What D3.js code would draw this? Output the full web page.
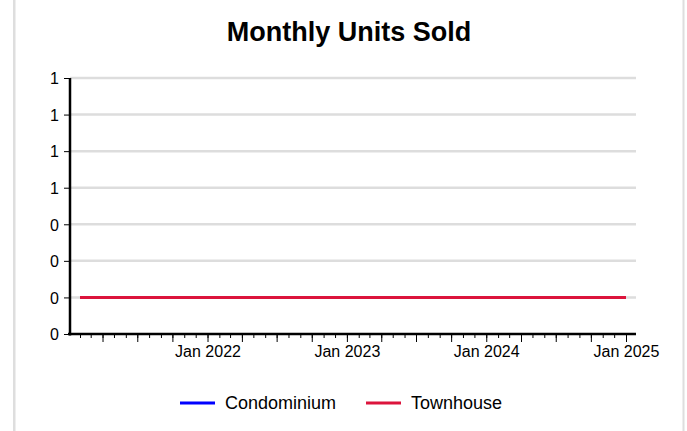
<!DOCTYPE html>
<html>
<head>
<meta charset="utf-8">
<script src="https://cdn.jsdelivr.net/npm/d3@7"></script>
<style>
    body { margin: 0; background: #fff; }
    text { font-family: "Liberation Sans", Arial, sans-serif; }
</style>
</head>
<body>
<div id="wrapper"></div>
<script>
const months = [
    "2021-02", "2021-03", "2021-04", "2021-05", "2021-06", "2021-07",
    "2021-08", "2021-09", "2021-10", "2021-11", "2021-12", "2022-01",
    "2022-02", "2022-03", "2022-04", "2022-05", "2022-06", "2022-07",
    "2022-08", "2022-09", "2022-10", "2022-11", "2022-12", "2023-01",
    "2023-02", "2023-03", "2023-04", "2023-05", "2023-06", "2023-07",
    "2023-08", "2023-09", "2023-10", "2023-11", "2023-12", "2024-01",
    "2024-02", "2024-03", "2024-04", "2024-05", "2024-06", "2024-07",
    "2024-08", "2024-09", "2024-10", "2024-11", "2024-12", "2025-01"
]
const condominium = [
    0, 0, 0, 0, 0, 0, 0, 0, 0, 0, 0, 0,
    0, 0, 0, 0, 0, 0, 0, 0, 0, 0, 0, 0,
    0, 0, 0, 0, 0, 0, 0, 0, 0, 0, 0, 0,
    0, 0, 0, 0, 0, 0, 0, 0, 0, 0, 0, 0
]
const townhouse = [
    0, 0, 0, 0, 0, 0, 0, 0, 0, 0, 0, 0,
    0, 0, 0, 0, 0, 0, 0, 0, 0, 0, 0, 0,
    0, 0, 0, 0, 0, 0, 0, 0, 0, 0, 0, 0,
    0, 0, 0, 0, 0, 0, 0, 0, 0, 0, 0, 0
]
const seriesNames = ["Condominium", "Townhouse"]
const seriesColors = ["#0000ff", "#dc143c"]
const yTicks = [-0.2, 0, 0.2, 0.4, 0.6, 0.8, 1.0, 1.2]

function drawChart() {
    const parseMonth = d3.timeParse("%Y-%m")
    const dates = months.map(parseMonth)
    const series = [condominium, townhouse].map((values, i) => ({
        name: seriesNames[i],
        color: seriesColors[i],
        values: values.map((v, j) => ({ date: dates[j], value: v }))
    }))

    let dimensions = {
        width: 687,
        height: 431,
        margin: { top: 78, right: 51, bottom: 97, left: 70 }
    }
    dimensions.boundedWidth = dimensions.width - dimensions.margin.left - dimensions.margin.right
    dimensions.boundedHeight = dimensions.height - dimensions.margin.top - dimensions.margin.bottom

    const wrapper = d3.select("#wrapper")
        .append("svg")
        .attr("width", dimensions.width)
        .attr("height", dimensions.height)

    // side borders of the card
    wrapper.append("rect").attr("x", 13).attr("y", 0).attr("width", 2.5).attr("height", dimensions.height).attr("fill", "#dedede")
    wrapper.append("rect").attr("x", 682.5).attr("y", 0).attr("width", 2).attr("height", dimensions.height).attr("fill", "#dedede")

    wrapper.append("text")
        .attr("x", 349)
        .attr("y", 41)
        .attr("text-anchor", "middle")
        .style("font-size", "27px")
        .style("font-weight", "bold")
        .text("Monthly Units Sold")

    const bounds = wrapper.append("g")
        .attr("transform", `translate(${dimensions.margin.left},${dimensions.margin.top})`)

    const xScale = d3.scaleTime()
        .domain(d3.extent(dates))
        .range([10, dimensions.boundedWidth - 10])

    const yScale = d3.scaleLinear()
        .domain([yTicks[0], yTicks[yTicks.length - 1]])
        .range([dimensions.boundedHeight, 0])

    // gridlines
    bounds.append("g")
        .selectAll("line")
        .data(yTicks.slice(1))
        .join("line")
        .attr("x1", 0)
        .attr("x2", dimensions.boundedWidth)
        .attr("y1", d => yScale(d))
        .attr("y2", d => yScale(d))
        .attr("stroke", "#dddddd")
        .attr("stroke-width", 2.5)

    // y axis
    const yAxis = bounds.append("g")
        .call(d3.axisLeft(yScale)
            .tickValues(yTicks)
            .tickFormat(d3.format(".0f"))
            .tickSize(6)
            .tickSizeOuter(0))
    yAxis.select(".domain").remove()
    yAxis.selectAll(".tick line").attr("stroke", "#000").attr("stroke-width", 1)
    yAxis.selectAll(".tick text")
        .attr("x", -11)
        .attr("dy", "0.36em")
        .style("font-size", "16px")
        .style("font-family", "'Liberation Sans', Arial, sans-serif")
        .attr("fill", "#000")

    // x axis: monthly minor ticks, quarterly major ticks
    const xAxis = bounds.append("g")
        .attr("transform", `translate(0,${dimensions.boundedHeight})`)
    const minorAxis = xAxis.append("g")
        .call(d3.axisBottom(xScale)
            .ticks(d3.timeMonth.every(1))
            .tickSize(4)
            .tickFormat(""))
    minorAxis.select(".domain").remove()
    const majorAxis = xAxis.append("g")
        .call(d3.axisBottom(xScale)
            .ticks(d3.timeMonth.every(3))
            .tickSize(8)
            .tickPadding(4)
            .tickFormat(d => d.getMonth() === 0 ? d3.timeFormat("Jan %Y")(d) : ""))
    majorAxis.select(".domain").remove()
    xAxis.selectAll(".tick line").attr("stroke", "#000").attr("stroke-width", 1)
    majorAxis.selectAll(".tick text")
        .style("font-size", "16px")
        .style("font-family", "'Liberation Sans', Arial, sans-serif")
        .attr("fill", "#000")

    // axis lines
    bounds.append("line")
        .attr("x1", 0).attr("x2", 0)
        .attr("y1", 0).attr("y2", dimensions.boundedHeight + 1.5)
        .attr("stroke", "#000").attr("stroke-width", 2.5)
    bounds.append("line")
        .attr("x1", -2).attr("x2", dimensions.boundedWidth)
        .attr("y1", dimensions.boundedHeight).attr("y2", dimensions.boundedHeight)
        .attr("stroke", "#000").attr("stroke-width", 2.5)

    // lines
    const lineGenerator = d3.line()
        .x(d => xScale(d.date))
        .y(d => yScale(d.value))

    bounds.selectAll(".series")
        .data(series)
        .join("path")
        .attr("class", "series")
        .attr("d", d => lineGenerator(d.values))
        .attr("fill", "none")
        .attr("stroke", d => d.color)
        .attr("stroke-width", 3)

    // legend
    const legendX = [180, 366]
    const legend = wrapper.append("g")
    const items = legend.selectAll("g")
        .data(series)
        .join("g")
        .attr("transform", (d, i) => `translate(${legendX[i]},403)`)
    items.append("line")
        .attr("x1", 0).attr("x2", 35)
        .attr("stroke", d => d.color)
        .attr("stroke-width", 3)
    items.append("text")
        .attr("x", 45)
        .attr("y", 6)
        .style("font-size", "18px")
        .attr("fill", "#000")
        .text(d => d.name)
}

drawChart()
</script>
</body>
</html>
